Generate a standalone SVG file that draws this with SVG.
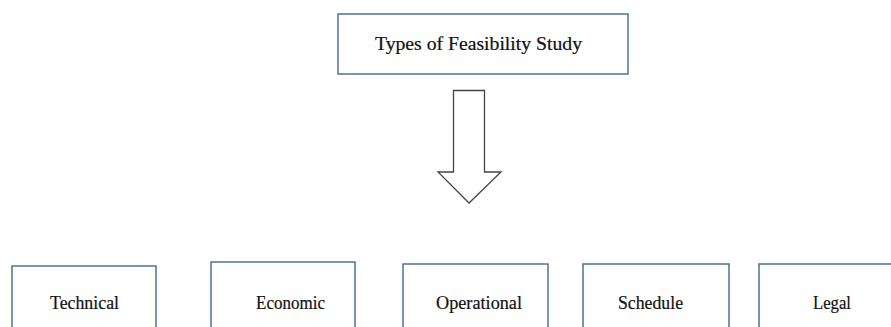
<svg xmlns="http://www.w3.org/2000/svg" width="891" height="327" viewBox="0 0 891 327">
<style>
.box{fill:#fff;stroke:#51709b;stroke-width:1.5}
.t{font-family:"Liberation Serif","DejaVu Serif",serif;font-size:18px;fill:#111;stroke:#111;stroke-width:0.2}
</style>
<rect width="891" height="327" fill="#fff"/>
<g id="top"><rect class="box" x="338" y="14" width="290" height="60"/><text class="t" x="375" y="50" textLength="207" lengthAdjust="spacingAndGlyphs">Types of Feasibility Study</text></g>
<g id="connectors"><path d="M453.5 90.5 H484.5 V172 H501 L469 203 L438 172 H453.5 Z" fill="#fff" stroke="#444" stroke-width="1.3"/></g>
<g id="technical"><rect class="box" x="12" y="266" width="144" height="70"/><text class="t" x="50" y="309" textLength="69" lengthAdjust="spacingAndGlyphs">Technical</text></g>
<g id="economic"><rect class="box" x="211" y="262" width="144" height="74"/><text class="t" x="256" y="309" textLength="69" lengthAdjust="spacingAndGlyphs">Economic</text></g>
<g id="operational"><rect class="box" x="403" y="264" width="145" height="72"/><text class="t" x="436" y="309" textLength="86" lengthAdjust="spacingAndGlyphs">Operational</text></g>
<g id="schedule"><rect class="box" x="583" y="264" width="146" height="72"/><text class="t" x="618" y="309" textLength="65" lengthAdjust="spacingAndGlyphs">Schedule</text></g>
<g id="legal"><rect class="box" x="759" y="264" width="150" height="72"/><text class="t" x="813" y="309" textLength="38" lengthAdjust="spacingAndGlyphs">Legal</text></g>
</svg>
